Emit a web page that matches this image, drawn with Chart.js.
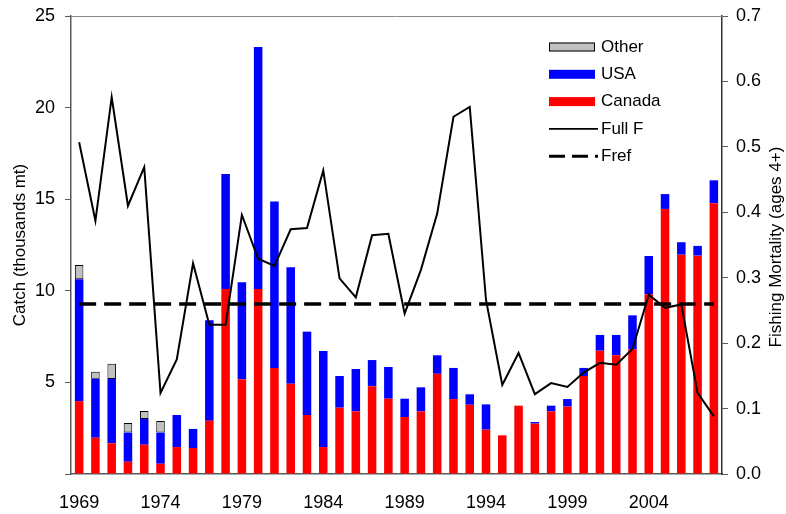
<!DOCTYPE html>
<html>
<head>
<meta charset="utf-8">
<script src="https://cdn.jsdelivr.net/npm/chart.js@4.4.0/dist/chart.umd.min.js"></script>
<style>
  html, body { margin: 0; padding: 0; background: #fff; }
  #wrap { width: 786px; height: 514px; }
</style>
</head>
<body>
<div id="wrap"><canvas id="chart" width="786" height="514"></canvas></div>
<script>
const years = ["1969","1970","1971","1972","1973","1974","1975","1976","1977","1978",
               "1979","1980","1981","1982","1983","1984","1985","1986","1987","1988",
               "1989","1990","1991","1992","1993","1994","1995","1996","1997","1998",
               "1999","2000","2001","2002","2003","2004","2005","2006","2007","2008"];
const yearLabels = ["1969","1974","1979","1984","1989","1994","1999","2004"];

// catch, thousands mt
const canada = [3.98,1.98,1.68,0.67,1.60,0.56,1.47,1.42,2.91,10.1,
                5.17,10.1,5.79,4.93,3.22,1.47,3.62,3.42,4.79,4.11,
                3.11,3.42,5.47,4.09,3.78,2.42,2.11,3.73,2.75,3.42,
                3.68,5.35,6.73,6.48,6.81,9.81,14.47,11.97,11.92,14.78];
const usa = [6.65,3.22,3.51,1.59,1.40,1.70,1.75,1.04,5.48,6.28,
             5.29,13.21,9.09,6.35,4.55,5.24,1.73,2.31,1.43,1.73,
             1.00,1.31,1.01,1.70,0.57,1.38,0,0,0.09,0.31,
             0.41,0.44,0.86,1.11,1.85,2.09,0.81,0.68,0.53,1.25];
const other = [0.78,0.38,0.83,0.52,0.44,0.63,0,0,0,0,
               0,0,0,0,0,0,0,0,0,0,
               0,0,0,0,0,0,0,0,0,0,
               0,0,0,0,0,0,0,0,0,0];

// fishing mortality, ages 4+
const fullF = [0.507,0.387,0.576,0.410,0.469,0.124,0.175,0.322,0.228,0.228,
               0.396,0.329,0.318,0.374,0.376,0.464,0.299,0.270,0.365,0.367,
               0.245,0.312,0.398,0.546,0.561,0.266,0.136,0.185,0.122,0.139,
               0.133,0.155,0.170,0.167,0.191,0.274,0.254,0.259,0.124,0.088];
const fref = [0.26,0.26,0.26,0.26,0.26,0.26,0.26,0.26,0.26,0.26,
              0.26,0.26,0.26,0.26,0.26,0.26,0.26,0.26,0.26,0.26,
              0.26,0.26,0.26,0.26,0.26,0.26,0.26,0.26,0.26,0.26,
              0.26,0.26,0.26,0.26,0.26,0.26,0.26,0.26,0.26,0.26];

const FONT = "'Liberation Sans', Arial, sans-serif";
const AXIS = "#5a5a5a";

// legend box inside the plot (top right), top frame line, right axis title
const legendPlugin = {
  id: "legendBox",
  afterDraw(chart) {
    const ctx = chart.ctx, a = chart.chartArea;
    ctx.save();
    ctx.strokeStyle = "#8a8a8a";
    ctx.lineWidth = 1;
    ctx.beginPath();
    ctx.moveTo(a.left, a.top + 0.5);
    ctx.lineTo(a.right, a.top + 0.5);
    ctx.stroke();

    // right title reads bottom-to-top like the left one
    ctx.save();
    ctx.translate(776, (a.top + a.bottom) / 2 + 2);
    ctx.rotate(-Math.PI / 2);
    ctx.font = "17px " + FONT;
    ctx.fillStyle = "#000";
    ctx.textAlign = "center";
    ctx.textBaseline = "middle";
    ctx.fillText("Fishing Mortality (ages 4+)", 0, 0);
    ctx.restore();

    const x0 = a.left + 478, w = 46;
    const rows = [
      { label: "Other", kind: "box", fill: "#c0c0c0", stroke: "#000" },
      { label: "USA", kind: "box", fill: "#0000ff" },
      { label: "Canada", kind: "box", fill: "#ff0000" },
      { label: "Full F", kind: "line" },
      { label: "Fref", kind: "dash" }
    ];
    ctx.font = "17px " + FONT;
    ctx.textBaseline = "middle";
    rows.forEach((r, i) => {
      const y = a.top + 31 + i * 27.3;
      if (r.kind === "box") {
        ctx.fillStyle = r.fill;
        ctx.fillRect(x0, y - 4.5, w, 9);
        if (r.stroke) {
          ctx.strokeStyle = r.stroke;
          ctx.lineWidth = 1;
          ctx.strokeRect(x0 + 0.5, y - 4, w - 1, 8);
        }
      } else {
        ctx.strokeStyle = "#000";
        ctx.lineWidth = r.kind === "dash" ? 3 : 1.6;
        ctx.setLineDash(r.kind === "dash" ? [16, 7] : []);
        ctx.beginPath();
        ctx.moveTo(x0, y);
        ctx.lineTo(x0 + 49, y);
        ctx.stroke();
        ctx.setLineDash([]);
      }
      ctx.fillStyle = "#000";
      ctx.fillText(r.label, x0 + 52, y);
    });
    ctx.restore();
  }
};

function fixY(w) {
  return s => { s.width = w; s.paddingTop = 0; s.paddingBottom = 0; };
}

const ctx = document.getElementById("chart").getContext("2d");
new Chart(ctx, {
  data: {
    labels: years,
    datasets: [
      { type: "line", label: "Full F", data: fullF, yAxisID: "y1",
        borderColor: "#000", borderWidth: 2, pointRadius: 0, tension: 0, order: 0 },
      { type: "line", label: "Fref", data: fref, yAxisID: "y1",
        borderColor: "#000", borderWidth: 3.5, borderDash: [17, 8], pointRadius: 0, order: 0 },
      { type: "bar", label: "Canada", data: canada, backgroundColor: "#ff0000",
        yAxisID: "y", stack: "c", order: 1, barPercentage: 0.92, categoryPercentage: 0.57 },
      { type: "bar", label: "USA", data: usa, backgroundColor: "#0000ff",
        yAxisID: "y", stack: "c", order: 1, barPercentage: 0.92, categoryPercentage: 0.57 },
      { type: "bar", label: "Other", data: other, backgroundColor: "#c0c0c0",
        borderColor: "#000", borderWidth: 1, borderSkipped: false,
        yAxisID: "y", stack: "c", order: 1, barPercentage: 0.92, categoryPercentage: 0.57 }
    ]
  },
  options: {
    responsive: false,
    animation: false,
    devicePixelRatio: 1,
    layout: { padding: { top: 16, left: 0, right: 0, bottom: 0 } },
    plugins: { legend: { display: false }, tooltip: { enabled: false } },
    scales: {
      x: {
        stacked: true,
        offset: true,
        grid: { display: false, drawTicks: false },
        border: { display: true, color: AXIS, width: 1.5 },
        ticks: {
          autoSkip: false, maxRotation: 0, padding: 18, color: "#000",
          font: { family: FONT, size: 18 },
          callback: function (v) {
            const l = this.getLabelForValue(v);
            return yearLabels.includes(l) ? l : "";
          }
        },
        afterFit: s => { s.height = 40; s.paddingLeft = 0; s.paddingRight = 0; }
      },
      y: {
        stacked: true,
        position: "left",
        min: 0, max: 25,
        ticks: {
          stepSize: 5, padding: 10, color: "#000",
          font: { family: FONT, size: 18 },
          callback: v => (v === 0 ? "" : v)
        },
        grid: { drawOnChartArea: false, tickLength: 6, color: AXIS },
        border: { color: AXIS, width: 1.5 },
        title: { display: true, text: "Catch (thousands mt)", color: "#000",
                 font: { family: FONT, size: 17 }, padding: { top: 10, bottom: 0 } },
        afterFit: fixY(71)
      },
      y1: {
        position: "right",
        min: 0, max: 0.7,
        ticks: {
          stepSize: 0.1, padding: 8, color: "#000",
          font: { family: FONT, size: 18 },
          callback: v => v.toFixed(1)
        },
        grid: { drawOnChartArea: false, tickLength: 6, color: AXIS },
        border: { color: "#333", width: 1.5 },
        title: { display: false },
        afterFit: fixY(64)
      }
    }
  },
  plugins: [legendPlugin]
});
</script>
</body>
</html>
